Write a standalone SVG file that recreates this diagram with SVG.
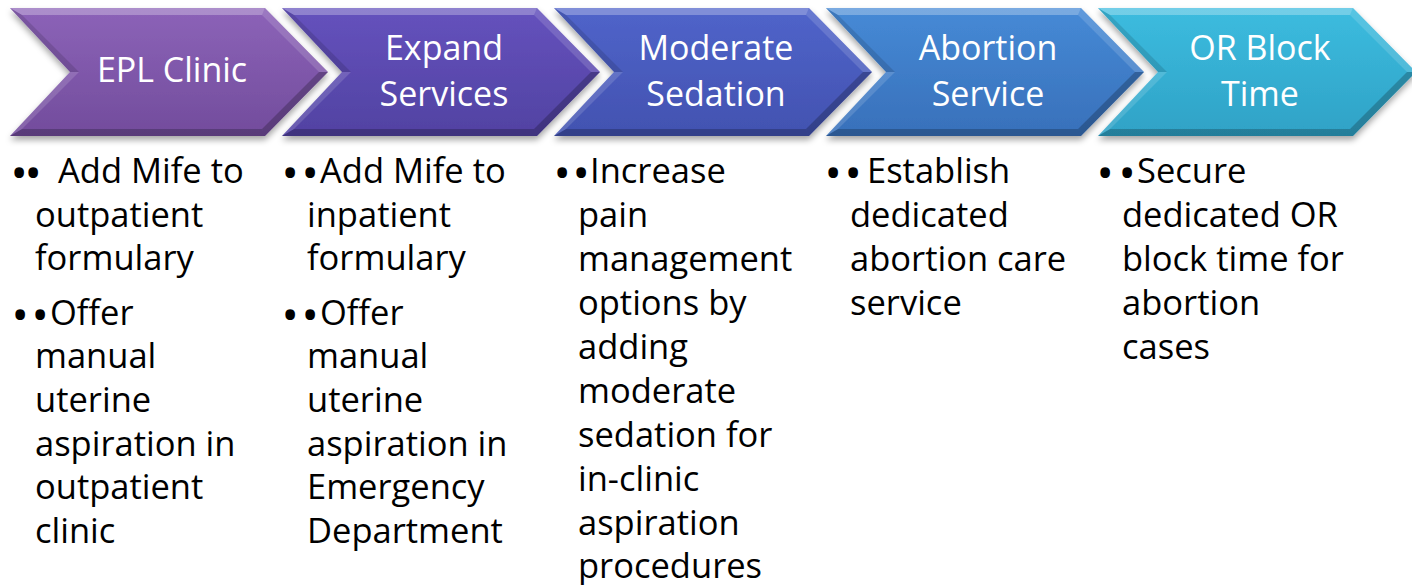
<svg xmlns="http://www.w3.org/2000/svg" width="1412" height="585" viewBox="0 0 1412 585">
<style>
.hd{font-family:"Open Sans","Liberation Sans",sans-serif;font-size:34px;fill:#ffffff;text-anchor:middle}
.bd{font-family:"Open Sans","Liberation Sans",sans-serif;font-size:34.5px;fill:#000000}
.bl{font-family:"Open Sans","Liberation Sans",sans-serif;font-size:46px;fill:#000000}
.lt{fill:#ffffff;fill-opacity:0.28}
.lt2{fill:#ffffff;fill-opacity:0.14}
.dk{fill:#000000;fill-opacity:0.22}
.dk2{fill:#000000;fill-opacity:0.12}
</style>
<defs>
<filter id="sh" x="-5%" y="-10%" width="110%" height="125%">
<feDropShadow dx="0" dy="4" stdDeviation="3" flood-color="#000" flood-opacity="0.35"/>
</filter>
<linearGradient id="g1" x1="0" y1="0" x2="0" y2="1"><stop offset="0" stop-color="#8C63B8"/><stop offset="1" stop-color="#724C9C"/></linearGradient>
<linearGradient id="g2" x1="0" y1="0" x2="0" y2="1"><stop offset="0" stop-color="#6552BD"/><stop offset="1" stop-color="#5142A2"/></linearGradient>
<linearGradient id="g3" x1="0" y1="0" x2="0" y2="1"><stop offset="0" stop-color="#5064CA"/><stop offset="1" stop-color="#4252B0"/></linearGradient>
<linearGradient id="g4" x1="0" y1="0" x2="0" y2="1"><stop offset="0" stop-color="#468AD6"/><stop offset="1" stop-color="#3870BA"/></linearGradient>
<linearGradient id="g5" x1="0" y1="0" x2="0" y2="1"><stop offset="0" stop-color="#3CBCDF"/><stop offset="1" stop-color="#2FA2C6"/></linearGradient>
<g id="bevel">
<polygon class="lt" points="0,8 255,8 252,15 12,15"/>
<polygon class="lt2" points="255,8 318,72 309,72 252,15"/>
<polygon class="dk" points="318,72 255,136 252,129 309,72"/>
<polygon class="dk" points="255,136 0,136 12,129 252,129"/>
<polygon class="lt2" points="0,136 60,72 69,72 12,129"/>
<polygon class="dk2" points="60,72 0,8 12,15 69,72"/>
</g>
<polygon id="chev" points="0,8 255,8 318,72 255,136 0,136 60,72"/>
</defs>

<g id="node1">
<g transform="translate(10,0)"><use href="#chev" fill="url(#g1)" filter="url(#sh)"/><use href="#bevel"/></g>
<text class="hd" x="172" y="82">EPL Clinic</text>
<text class="bl" x="10.4" y="189" letter-spacing="-3.3">••</text>
<text class="bd" x="58" y="183">Add Mife to</text>
<text class="bd"><tspan x="35" y="227">outpatient</tspan><tspan x="35" y="270">formulary</tspan></text>
<text class="bl" x="11.4" y="331" letter-spacing="2.7">••</text>
<text class="bd"><tspan x="50" y="325">Offer</tspan><tspan x="35" y="368">manual</tspan><tspan x="35" y="412">uterine</tspan><tspan x="35" y="456">aspiration in</tspan><tspan x="35" y="499">outpatient</tspan><tspan x="35" y="543">clinic</tspan></text>
</g>

<g id="node2">
<g transform="translate(282,0)"><use href="#chev" fill="url(#g2)" filter="url(#sh)"/><use href="#bevel"/></g>
<text class="hd"><tspan x="444" y="60">Expand</tspan><tspan x="444" y="106">Services</tspan></text>
<text class="bl" x="281.4" y="189" letter-spacing="2.7">••</text>
<text class="bd"><tspan x="320" y="183">Add Mife to</tspan><tspan x="307" y="227">inpatient</tspan><tspan x="307" y="270">formulary</tspan></text>
<text class="bl" x="281.4" y="331" letter-spacing="2.7">••</text>
<text class="bd"><tspan x="320" y="325">Offer</tspan><tspan x="307" y="368">manual</tspan><tspan x="307" y="412">uterine</tspan><tspan x="307" y="456">aspiration in</tspan><tspan x="307" y="499">Emergency</tspan><tspan x="307" y="543">Department</tspan></text>
</g>

<g id="node3">
<g transform="translate(554,0)"><use href="#chev" fill="url(#g3)" filter="url(#sh)"/><use href="#bevel"/></g>
<text class="hd"><tspan x="716" y="60">Moderate</tspan><tspan x="716" y="106">Sedation</tspan></text>
<text class="bl" x="553.4" y="189" letter-spacing="1.7">••</text>
<text class="bd"><tspan x="590" y="183">Increase</tspan><tspan x="578" y="227">pain</tspan><tspan x="578" y="271">management</tspan><tspan x="578" y="315">options by</tspan><tspan x="578" y="359">adding</tspan><tspan x="578" y="403">moderate</tspan><tspan x="578" y="447">sedation for</tspan><tspan x="578" y="491">in-clinic</tspan><tspan x="578" y="535">aspiration</tspan><tspan x="578" y="578">procedures</tspan></text>
</g>

<g id="node4">
<g transform="translate(826,0)"><use href="#chev" fill="url(#g4)" filter="url(#sh)"/><use href="#bevel"/></g>
<text class="hd"><tspan x="988" y="60">Abortion</tspan><tspan x="988" y="106">Service</tspan></text>
<text class="bl" x="824.4" y="189" letter-spacing="2.7">••</text>
<text class="bd"><tspan x="867" y="183">Establish</tspan><tspan x="850" y="227">dedicated</tspan><tspan x="850" y="271">abortion care</tspan><tspan x="850" y="315">service</tspan></text>
</g>

<g id="node5">
<g transform="translate(1098,0)"><use href="#chev" fill="url(#g5)" filter="url(#sh)"/><use href="#bevel"/></g>
<text class="hd"><tspan x="1260" y="60">OR Block</tspan><tspan x="1260" y="106">Time</tspan></text>
<text class="bl" x="1096.4" y="189" letter-spacing="4.7">••</text>
<text class="bd"><tspan x="1137" y="183">Secure</tspan><tspan x="1122" y="227">dedicated OR</tspan><tspan x="1122" y="271">block time for</tspan><tspan x="1122" y="315">abortion</tspan><tspan x="1122" y="359">cases</tspan></text>
</g>

<g id="connectors"></g>
</svg>
